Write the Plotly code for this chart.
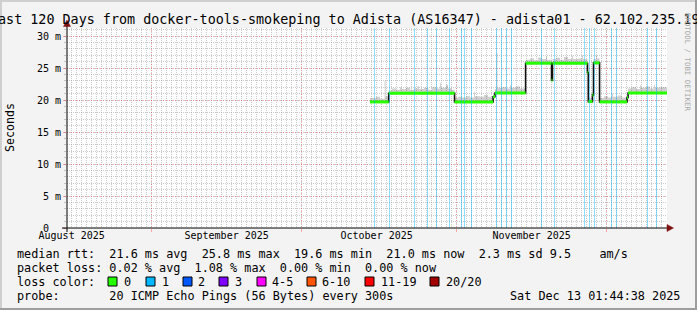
import plotly.graph_objects as go
import pandas as pd

# ---------------- data ----------------
title_text = "Last 120 Days from docker-tools-smokeping to Adista (AS16347) - adista01 - 62.102.235.19"
x_start = "2025-08-15 01:44:38"
x_end = "2025-12-13 01:44:38"
month_starts = ["2025-08-01", "2025-09-01", "2025-10-01", "2025-11-01", "2025-12-01"]
month_labels = ["August 2025", "September 2025", "October 2025", "November 2025", "December 2025"]
y_tickvals = [0, 5, 10, 15, 20, 25, 30]
y_ticktext = ["0  ", "5 m", "10 m", "15 m", "20 m", "25 m", "30 m"]
y_max = 31.25

# median rtt (ms), step series
median_t = ["2025-10-14 16:00", "2025-10-18 10:00", "2025-10-31 14:00", "2025-11-08 07:00",
            "2025-11-08 16:00", "2025-11-14 19:00", "2025-11-19 23:30", "2025-11-20 04:00",
            "2025-11-27 04:00", "2025-11-27 08:00", "2025-11-28 04:00", "2025-11-28 09:00",
            "2025-11-29 14:00", "2025-12-05 02:00", "2025-12-05 07:00", "2025-12-13 01:40"]
median_ms = [19.7, 21.05, 19.7, 20.5, 21.1, 25.75, 23.1, 25.75, 24.3, 19.75, 20.8, 25.8,
             19.7, 20.4, 21.1, 21.1]

# smoke (ping spread) low / high (ms)
smoke_t = ["2025-10-14 16:00", "2025-10-15 21:00", "2025-10-16 16:00", "2025-10-17 14:00",
           "2025-10-17 19:00", "2025-10-18 10:00", "2025-10-19 02:00", "2025-10-19 21:00",
           "2025-10-20 16:00", "2025-10-20 21:00", "2025-10-21 21:00", "2025-10-22 16:00",
           "2025-10-23 11:30", "2025-10-24 07:00", "2025-10-24 11:30", "2025-10-25 11:30",
           "2025-10-26 07:00", "2025-10-27 02:00", "2025-10-27 21:00", "2025-10-28 16:00",
           "2025-10-28 21:00", "2025-10-29 21:00", "2025-10-30 07:00", "2025-10-31 02:00",
           "2025-10-31 14:00", "2025-11-01 07:00", "2025-11-02 02:00", "2025-11-02 21:00",
           "2025-11-03 16:00", "2025-11-04 11:30", "2025-11-04 16:00", "2025-11-05 16:00",
           "2025-11-06 11:30", "2025-11-07 07:00", "2025-11-08 07:00", "2025-11-08 16:00",
           "2025-11-08 23:30", "2025-11-09 04:00", "2025-11-10 02:00", "2025-11-10 21:00",
           "2025-11-11 16:00", "2025-11-11 21:00", "2025-11-12 21:00", "2025-11-13 16:00",
           "2025-11-14 19:00", "2025-11-15 16:00", "2025-11-16 11:30", "2025-11-17 07:00",
           "2025-11-18 02:00", "2025-11-18 21:00", "2025-11-19 02:00", "2025-11-19 23:30",
           "2025-11-20 04:00", "2025-11-20 21:00", "2025-11-21 16:00", "2025-11-22 11:30",
           "2025-11-23 07:00", "2025-11-24 02:00", "2025-11-24 07:00", "2025-11-25 07:00",
           "2025-11-26 02:00", "2025-11-26 07:00", "2025-11-27 04:00", "2025-11-27 08:00",
           "2025-11-28 04:00", "2025-11-28 09:00", "2025-11-28 21:00", "2025-11-29 02:00",
           "2025-11-29 14:00", "2025-11-30 11:30", "2025-12-01 07:00", "2025-12-02 02:00",
           "2025-12-02 07:00", "2025-12-03 07:00", "2025-12-04 02:00", "2025-12-05 02:00",
           "2025-12-05 07:00", "2025-12-06 02:00", "2025-12-06 21:00", "2025-12-07 16:00",
           "2025-12-07 21:00", "2025-12-08 21:00", "2025-12-09 16:00", "2025-12-10 11:30",
           "2025-12-10 16:00", "2025-12-11 16:00", "2025-12-13 01:40"]
smoke_lo = [19.55, 19.55, 19.55, 19.55, 19.55, 20.9, 20.9, 20.9, 20.9, 20.9, 20.9, 20.9,
            20.9, 20.9, 20.9, 20.9, 20.9, 20.9, 20.9, 20.9, 20.9, 20.9, 20.9, 20.9,
            19.55, 19.55, 19.55, 19.55, 19.55, 19.55, 19.55, 19.55, 19.55, 19.55, 20.3, 20.95,
            20.95, 20.95, 20.95, 20.95, 20.95, 20.95, 20.95, 20.95, 25.55, 25.55, 25.55, 25.55,
            25.55, 25.55, 25.55, 22.9, 25.55, 25.55, 25.55, 25.55, 25.55, 25.55, 25.55, 25.55,
            25.55, 25.55, 24.1, 19.6, 20.6, 25.55, 25.55, 25.55, 19.55, 19.55, 19.55, 19.55,
            19.55, 19.55, 19.55, 20.2, 20.95, 20.95, 20.95, 20.95, 20.95, 20.95, 20.95, 20.95,
            20.95, 20.95, 20.95]
smoke_hi = [20.3, 20.5, 20.2, 23.0, 20.6, 21.5, 21.8, 21.6, 22.0, 21.7, 21.9, 21.6,
            21.8, 22.2, 21.7, 21.9, 21.6, 22.0, 21.8, 22.6, 21.9, 22.4, 21.8, 21.6,
            20.3, 20.5, 20.4, 20.6, 20.4, 21.3, 20.6, 20.5, 20.8, 20.5, 21.0, 21.7,
            27.3, 21.9, 22.0, 21.8, 22.3, 21.9, 22.1, 21.8, 26.3, 26.5, 26.2, 26.6,
            26.4, 26.8, 26.3, 25.9, 26.4, 26.6, 26.3, 26.7, 26.4, 26.9, 26.4, 26.5,
            27.0, 26.4, 25.8, 20.4, 21.2, 26.4, 27.0, 26.5, 20.3, 20.6, 20.4, 21.0,
            20.5, 20.7, 20.4, 20.9, 21.8, 22.0, 21.7, 22.3, 21.9, 22.1, 21.8, 22.4,
            21.9, 22.0, 22.0]

# packet-loss events (lost pings out of 20)
loss_t = ["2025-10-15 16:00", "2025-10-18 16:00", "2025-10-23 16:00", "2025-10-26 06:30",
          "2025-10-28 01:40", "2025-10-30 11:20", "2025-11-01 21:00", "2025-11-02 16:00",
          "2025-11-03 21:00", "2025-11-09 01:40", "2025-11-10 01:40", "2025-11-10 21:00",
          "2025-11-11 21:00", "2025-11-17 21:00", "2025-11-20 16:00", "2025-11-26 16:00",
          "2025-11-27 16:00", "2025-11-28 16:00", "2025-12-01 21:00", "2025-12-02 21:00",
          "2025-12-09 06:30", "2025-12-10 21:00"]
loss_count = [1, 1, 1, 1, 1, 1, 1, 1, 1, 1, 1, 1, 1, 1, 1, 1, 1, 1, 1, 1, 1, 1]

loss_labels = ["0", "1", "2", "3", "4-5", "6-10", "11-19", "20/20"]
loss_colors = ["#26ff00", "#00b8ff", "#0059ff", "#7e00ff", "#ff00ff", "#ff5500", "#ff0000", "#a10000"]

stats_rtt = "median rtt:  21.6 ms avg  25.8 ms max  19.6 ms min  21.0 ms now  2.3 ms sd 9.5    am/s"
stats_loss = "packet loss: 0.02 % avg  1.08 % max  0.00 % min  0.00 % now"
loss_title = "loss color:"
probe_text = "probe:       20 ICMP Echo Pings (56 Bytes) every 300s"
stamp_text = "Sat Dec 13 01:44:38 2025"
side_text = "RRDTOOL / TOBI OETIKER"
y_title = "Seconds"

# ---------------- layout helpers ----------------
W_FIG, H_FIG = 697, 310
PL, PR, PT, PB = 67, 667, 28, 228
PW, PH = PR - PL, PB - PT
FONT = "DejaVu Sans Mono"
GRID = "rgba(140,140,140,0.45)"
MGRID = "rgba(255,40,40,0.38)"
ARROW = "#7f1010"


def fx(px):
    return (px - PL) / PW


def fy(py):
    return (PB - py) / PH


def nb(s):
    return s.replace(" ", "\u00a0")


label_pos = [pd.Timestamp(m) + pd.Timedelta(days=15) for m in month_starts]

fig = go.Figure()

# smoke
fig.add_trace(go.Scatter(x=smoke_t, y=smoke_lo, mode="lines",
                         line=dict(width=0, shape="hv"), hoverinfo="skip", showlegend=False))
fig.add_trace(go.Scatter(x=smoke_t, y=smoke_hi, mode="lines", fill="tonexty",
                         fillcolor="rgba(0,0,0,0.19)",
                         line=dict(width=0, shape="hv"), hoverinfo="skip", showlegend=False))
# median black step line
fig.add_trace(go.Scatter(x=median_t, y=median_ms, mode="lines",
                         line=dict(color="#111111", width=1.6, shape="hv"), showlegend=False))
# median coloured by loss (0 loss -> green), horizontal parts only
gx, gy = [], []
for i in range(len(median_t) - 1):
    gx += [median_t[i], median_t[i + 1], None]
    gy += [median_ms[i], median_ms[i], None]
fig.add_trace(go.Scatter(x=gx, y=gy, mode="lines",
                         line=dict(color=loss_colors[0], width=3), showlegend=False))
# loss background bars
fig.add_trace(go.Bar(x=loss_t, y=loss_count, xaxis="x2", yaxis="y2",
                     width=4.8 * 3600 * 1000,
                     marker=dict(color="rgba(0,184,255,0.45)", line=dict(width=0)),
                     showlegend=False))

fig.update_layout(
    width=W_FIG, height=H_FIG,
    margin=dict(l=PL, r=W_FIG - PR, t=PT, b=H_FIG - PB, pad=0),
    paper_bgcolor="#f3f3f3", plot_bgcolor="#ffffff",
    font=dict(family=FONT, size=10, color="#000000"),
    showlegend=False, bargap=0,
    xaxis=dict(type="date", range=[x_start, x_end],
               tickmode="array", tickvals=label_pos, ticktext=month_labels,
               showgrid=False, zeroline=False, showline=False, ticks="",
               tickfont=dict(family=FONT, size=10, color="#000000"),
               minor=dict(dtick=86400000, tick0="2025-08-01", showgrid=True,
                          gridcolor=GRID, griddash="1px,1px", gridwidth=1)),
    xaxis2=dict(type="date", overlaying="x", matches="x", anchor="y2",
                tickmode="array", tickvals=month_starts, showticklabels=False,
                showgrid=True, gridcolor=MGRID, griddash="1px,2px", gridwidth=1,
                ticks="outside", ticklen=3, tickcolor=MGRID, zeroline=False, showline=False),
    yaxis=dict(range=[0, y_max], tickmode="array", tickvals=y_tickvals,
               ticktext=[nb(t) for t in y_ticktext],
               showgrid=True, gridcolor=MGRID, griddash="1px,2px", gridwidth=1,
               zeroline=False, showline=False, ticks="outside", ticklen=3, tickcolor=MGRID,
               tickfont=dict(family=FONT, size=10, color="#000000"),
               minor=dict(dtick=1, showgrid=True, gridcolor=GRID, griddash="1px,1px",
                          ticks="outside", ticklen=2, tickcolor=GRID)),
    yaxis2=dict(range=[0, 1], overlaying="y", visible=False, fixedrange=True),
)

shapes = []
# frame
shapes.append(dict(type="rect", xref="paper", yref="paper", x0=fx(0), x1=fx(W_FIG), y0=fy(0), y1=fy(2),
                   fillcolor="#cfcfcf", line=dict(width=0)))
shapes.append(dict(type="rect", xref="paper", yref="paper", x0=fx(0), x1=fx(2), y0=fy(0), y1=fy(H_FIG),
                   fillcolor="#cfcfcf", line=dict(width=0)))
shapes.append(dict(type="rect", xref="paper", yref="paper", x0=fx(W_FIG - 2), x1=fx(W_FIG), y0=fy(0), y1=fy(H_FIG),
                   fillcolor="#9e9e9e", line=dict(width=0)))
shapes.append(dict(type="rect", xref="paper", yref="paper", x0=fx(0), x1=fx(W_FIG), y0=fy(H_FIG - 2), y1=fy(H_FIG),
                   fillcolor="#9e9e9e", line=dict(width=0)))
# axes
shapes.append(dict(type="line", xref="paper", yref="paper", x0=fx(62), x1=fx(668), y0=0, y1=0,
                   line=dict(color="#000000", width=1)))
shapes.append(dict(type="line", xref="paper", yref="paper", x0=0, x1=0, y0=fy(232), y1=fy(25),
                   line=dict(color="#000000", width=1)))
# arrows
shapes.append(dict(type="path", xref="paper", yref="paper",
                   path=f"M {fx(667)} {fy(224.5)} L {fx(673.5)} {fy(228)} L {fx(667)} {fy(231.5)} Z",
                   fillcolor=ARROW, line=dict(color=ARROW, width=0.5)))
shapes.append(dict(type="path", xref="paper", yref="paper",
                   path=f"M {fx(63.5)} {fy(26.5)} L {fx(67)} {fy(20)} L {fx(70.5)} {fy(26.5)} Z",
                   fillcolor=ARROW, line=dict(color=ARROW, width=0.5)))

# loss colour legend boxes
box_x = [108, 146, 183, 219, 257, 307, 365, 430]
lab_x = [123, 161, 197, 234, 271, 321, 380, 445]
for bx, c in zip(box_x, loss_colors):
    shapes.append(dict(type="rect", xref="paper", yref="paper", x0=fx(bx), x1=fx(bx + 9),
                       y0=fy(286), y1=fy(277), fillcolor=c, line=dict(color="#000000", width=1)))

annotations = []


def txt(text, x, y, size, anchor="left", angle=0, color="#000000"):
    annotations.append(dict(text=nb(text), x=fx(x), y=fy(y), xref="paper", yref="paper",
                            xanchor=anchor, yanchor="middle", showarrow=False, textangle=angle,
                            borderpad=0, font=dict(family=FONT, size=size, color=color)))


txt(title_text, 344.5, 19.5, 13.4, anchor="center")
txt(y_title, 10, 128, 11.6, anchor="center", angle=-90)
txt(stats_rtt, 16, 254, 11.8)
txt(stats_loss, 16, 268, 11.8)
txt(loss_title, 16, 282, 11.8)
for lx, lab in zip(lab_x, loss_labels):
    txt(lab, lx, 282, 11.8)
txt(probe_text, 16, 296, 11.8)
txt(stamp_text, 681, 296, 11.8, anchor="right")
txt(side_text, 688, 62, 7.4, anchor="center", angle=90, color="#a8a8a8")

fig.update_layout(shapes=shapes, annotations=annotations)
fig.write_html("out.html")
